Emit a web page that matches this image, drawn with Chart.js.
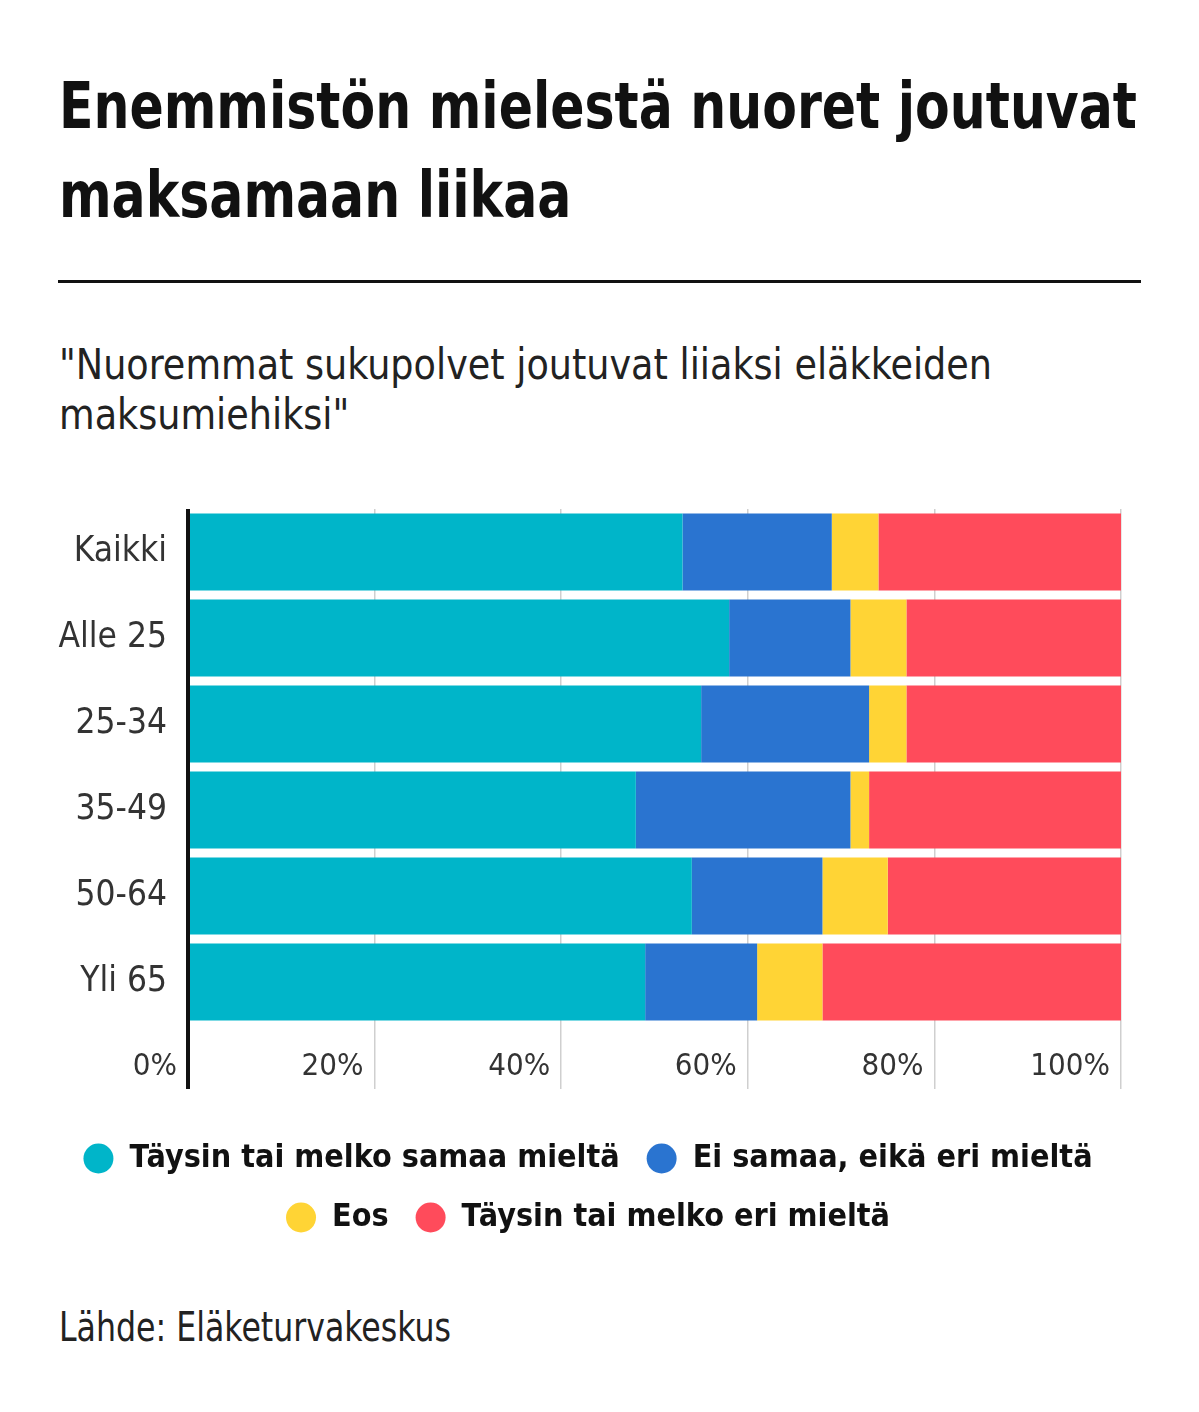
<!DOCTYPE html>
<html lang="fi">
<head>
<meta charset="utf-8">
<script src="https://cdn.jsdelivr.net/npm/chart.js@4.4.1/dist/chart.umd.min.js"></script>
<style>
  html, body { margin: 0; padding: 0; background: #fff; }
  body { width: 1199px; height: 1412px; position: relative; overflow: hidden;
         font-family: "DejaVu Sans Condensed", Lato, sans-serif; color: #111; }
  .fit { display: inline-block; transform-origin: 0 0; white-space: nowrap; }
  #title { position: absolute; left: 59px; top: 62px; margin: 0; font-size: 64px; line-height: 89px;
           font-weight: bold; }
  #rule { position: absolute; left: 58px; top: 280px; width: 1083px; height: 3px; background: #111; }
  #subtitle { position: absolute; left: 59px; top: 340px; margin: 0; font-size: 42px; line-height: 50px;
              font-weight: normal; color: #222; }
  #chartBox { position: absolute; left: 0; top: 474.5px; width: 1199px; height: 768.5px; }
  #source { position: absolute; left: 59px; top: 1304px; font-size: 40px; color: #222; }
</style>
</head>
<body>
<h1 id="title" class="fit" data-w="1078">Enemmistön mielestä nuoret joutuvat<br>maksamaan liikaa</h1>
<div id="rule"></div>
<p id="subtitle" class="fit" data-w="933">"Nuoremmat sukupolvet joutuvat liiaksi eläkkeiden<br>maksumiehiksi"</p>
<div id="chartBox"><canvas id="chart"></canvas></div>
<div id="source" class="fit" data-w="392">Lähde: Eläketurvakeskus</div>

<script>
// squeeze the html texts to the widths of the original condensed font
document.querySelectorAll(".fit").forEach(el => {
    const w = el.getBoundingClientRect().width;
    el.style.transform = "scaleX(" + (Number(el.dataset.w) / w) + ")";
});

const FONT = '"DejaVu Sans Condensed", Lato, sans-serif';

// age groups
const groups = ["Kaikki", "Alle 25", "25-34", "35-49", "50-64", "Yli 65"];

// shares in percent
const agree    = [53, 58, 55, 48, 54, 49];
const neutral  = [16, 13, 18, 23, 14, 12];
const dontKnow = [5, 6, 4, 2, 7, 7];
const disagree = [26, 23, 23, 27, 25, 32];

const seriesNames = ["Täysin tai melko samaa mieltä", "Ei samaa, eikä eri mieltä", "Eos", "Täysin tai melko eri mieltä"];
const seriesColors = ["#00b5c9", "#2a74d0", "#ffd435", "#ff4b5b"];
const xTicks = [0, 20, 40, 60, 80, 100];

const seriesData = [agree, neutral, dontKnow, disagree];

const ctx = document.getElementById("chart").getContext("2d");

new Chart(ctx, {
    type: "bar",
    data: {
        labels: groups,
        datasets: seriesData.map((values, i) => ({
            label: seriesNames[i],
            data: values,
            backgroundColor: seriesColors[i],
            borderWidth: 0,
            barPercentage: 1,
            categoryPercentage: 0.895
        }))
    },
    options: {
        indexAxis: "y",
        responsive: true,
        maintainAspectRatio: false,
        animation: false,
        layout: { padding: { left: 55, right: 78, top: 0, bottom: 0 } },
        scales: {
            x: {
                stacked: true,
                min: 0,
                max: 100,
                afterBuildTicks: scale => { scale.ticks = xTicks.map(v => ({ value: v })); },
                afterFit: scale => { scale.height = 90.5; },
                border: { display: false },
                grid: {
                    color: c => c.tick && c.tick.value === 0 ? "#111" : "#cfcfcf",
                    lineWidth: c => c.tick && c.tick.value === 0 ? 4 : 1.5,
                    tickLength: 64
                },
                ticks: {
                    align: "end",
                    labelOffset: -11,
                    padding: -41,
                    color: "#333",
                    font: { family: FONT, size: 31 },
                    callback: v => v + "%"
                }
            },
            y: {
                stacked: true,
                afterFit: scale => { scale.width = 133; },
                border: { display: false },
                grid: { display: false },
                ticks: {
                    padding: 13,
                    color: "#333",
                    font: { family: FONT, size: 35 }
                }
            }
        },
        plugins: {
            legend: {
                position: "bottom",
                align: "center",
                labels: {
                    usePointStyle: true,
                    pointStyle: "circle",
                    boxHeight: 21.2,
                    pointStyleWidth: 30,
                    padding: 27,
                    color: "#111",
                    font: { family: FONT, size: 32, weight: "bold" }
                }
            },
            tooltip: { enabled: false }
        }
    }
});
</script>
</body>
</html>
